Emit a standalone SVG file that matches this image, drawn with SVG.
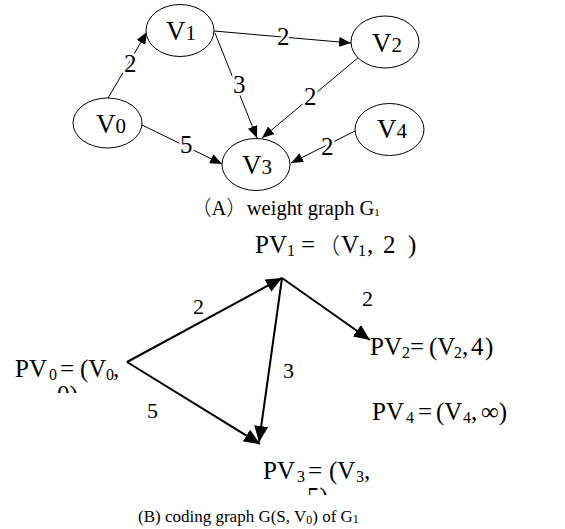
<svg xmlns="http://www.w3.org/2000/svg" width="565" height="529" viewBox="0 0 565 529">
<style>
text{font-family:"Liberation Serif","Times New Roman",serif;fill:#000}
.cjk{font-family:"Noto Sans CJK SC",sans-serif;font-weight:300}
.node{fill:#fff;stroke:#000;stroke-width:1}
.nv{font-size:27px}
.nd{font-size:21px}
.e1{stroke:#000;stroke-width:1;fill:none;marker-end:url(#a1)}
.e2{stroke:#000;stroke-width:2;fill:none;marker-end:url(#a2)}
.lbl{font-size:25px;stroke:#fff;stroke-width:5;paint-order:stroke fill;stroke-linejoin:round}
.lb2{font-size:22px}
.pv{font-size:25px}
.sub{font-size:16px}
</style>
<defs>
<marker id="a1" markerUnits="userSpaceOnUse" markerWidth="12" markerHeight="10" refX="12" refY="5" orient="auto"><path d="M0,0 L12,5 L0,10 z" fill="#000"/></marker>
<marker id="a2" markerUnits="userSpaceOnUse" markerWidth="16" markerHeight="14" refX="16" refY="7" orient="auto"><path d="M0,0 L16,7 L0,14 z" fill="#000"/></marker>
<clipPath id="c0"><rect x="0" y="380" width="200" height="13"/></clipPath>
<clipPath id="c3"><rect x="250" y="482" width="200" height="13"/></clipPath>
</defs>
<g id="connectors">
<line class="e1" x1="108" y1="98" x2="147" y2="32"/>
<line class="e1" x1="214" y1="31" x2="351" y2="43"/>
<line class="e1" x1="215" y1="33" x2="257" y2="138"/>
<line class="e1" x1="359" y1="57" x2="262" y2="138"/>
<line class="e1" x1="142" y1="125" x2="222" y2="164"/>
<line class="e1" x1="355" y1="131" x2="291" y2="163"/>
<text class="lbl" x="124" y="72">2</text>
<text class="lbl" x="277" y="45">2</text>
<text class="lbl" x="233" y="93">3</text>
<text class="lbl" x="304" y="105">2</text>
<text class="lbl" x="180" y="153">5</text>
<text class="lbl" x="321" y="155">2</text>
<line class="e2" x1="127" y1="362" x2="282" y2="278"/>
<line class="e2" x1="282" y1="278" x2="370" y2="340"/>
<line class="e2" x1="282" y1="278" x2="259" y2="442"/>
<line class="e2" x1="127" y1="362" x2="260" y2="444"/>
<text class="lb2" x="193" y="314">2</text>
<text class="lb2" x="362" y="306">2</text>
<text class="lb2" x="283" y="378">3</text>
<text class="lb2" x="147" y="418">5</text>
</g>
<g id="V1"><ellipse class="node" cx="180" cy="30.5" rx="34" ry="26"/><text x="166" y="40"><tspan class="nv">V</tspan><tspan class="nd">1</tspan></text></g>
<g id="V2"><ellipse class="node" cx="385" cy="42" rx="34" ry="26"/><text x="372" y="52"><tspan class="nv">V</tspan><tspan class="nd">2</tspan></text></g>
<g id="V0"><ellipse class="node" cx="107.5" cy="123" rx="34.5" ry="25"/><text x="96" y="133"><tspan class="nv">V</tspan><tspan class="nd">0</tspan></text></g>
<g id="V3"><ellipse class="node" cx="256" cy="164.5" rx="34" ry="26"/><text x="242" y="174"><tspan class="nv">V</tspan><tspan class="nd">3</tspan></text></g>
<g id="V4"><ellipse class="node" cx="389.5" cy="129.5" rx="34.5" ry="26"/><text x="377" y="138"><tspan class="nv">V</tspan><tspan class="nd">4</tspan></text></g>
<text x="191" y="215" font-size="20.5"><tspan class="cjk">（</tspan>A<tspan class="cjk">）</tspan>weight graph G<tspan font-size="11" dy="1">1</tspan></text>
<g id="PV1"><text class="pv" y="253"><tspan x="255">PV</tspan><tspan class="sub" x="287" dy="3">1</tspan><tspan x="301" dy="-3">=</tspan><tspan class="cjk" font-size="22" x="318">（</tspan><tspan x="341">V</tspan><tspan class="sub" x="358" dy="3">1</tspan><tspan x="367" dy="-3">,</tspan><tspan x="383">2</tspan><tspan x="408">)</tspan></text></g>
<g id="PV2"><text class="pv" y="355"><tspan x="370">PV</tspan><tspan class="sub" x="402" dy="3">2</tspan><tspan x="410" dy="-3">=</tspan><tspan x="429">(V</tspan><tspan class="sub" x="454" dy="3">2</tspan><tspan x="462" dy="-3">,</tspan><tspan x="471">4</tspan><tspan x="485">)</tspan></text></g>
<g id="PV0"><text class="pv" y="377"><tspan x="15">PV</tspan><tspan class="sub" x="49" dy="3">0</tspan><tspan x="60" dy="-3">=</tspan><tspan x="80">(V</tspan><tspan class="sub" x="106" dy="3">0</tspan><tspan x="113" dy="-3">,</tspan></text><text class="pv" x="57" y="403" clip-path="url(#c0)">0)</text></g>
<g id="PV4"><text class="pv" y="420"><tspan x="372">PV</tspan><tspan class="sub" x="406" dy="3">4</tspan><tspan x="418" dy="-3">=</tspan><tspan x="436">(V</tspan><tspan class="sub" x="463" dy="3">4</tspan><tspan x="471" dy="-3">,</tspan><tspan x="481">∞)</tspan></text></g>
<g id="PV3"><text class="pv" y="479"><tspan x="263">PV</tspan><tspan class="sub" x="297" dy="3">3</tspan><tspan x="308" dy="-3">=</tspan><tspan x="329">(V</tspan><tspan class="sub" x="356" dy="3">3</tspan><tspan x="364" dy="-3">,</tspan></text><text class="pv" x="307" y="505" clip-path="url(#c3)">5)</text></g>
<text x="138" y="522" font-size="17">(B) coding graph G(S, V<tspan font-size="12" dy="2">0</tspan><tspan dy="-2">) of G</tspan><tspan font-size="12" dy="1">1</tspan></text>
</svg>
